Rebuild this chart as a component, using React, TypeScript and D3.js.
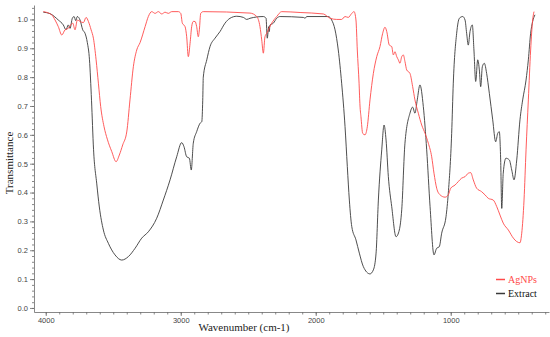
import { useEffect, useRef } from 'react';
import * as d3 from 'd3';

// FTIR spectra (wavenumber in cm-1, transmittance)
const extractWavenumber = [
    4018, 3968, 3907, 3870, 3850, 3833, 3820, 3803, 3790, 3778, 3766, 3746, 3726, 3709, 3692, 3676,
    3661, 3646, 3622, 3603, 3573, 3536, 3487, 3437, 3388, 3338, 3289, 3240, 3178, 3129, 3079, 3030,
    2993, 2976, 2956, 2936, 2922, 2907, 2882, 2857, 2844, 2837, 2833, 2807, 2783, 2746, 2709, 2672,
    2635, 2585, 2536, 2511, 2487, 2388, 2368, 2359, 2348, 2344, 2339, 2314, 2289, 2264, 2092, 2079,
    2067, 1907, 1882, 1857, 1833, 1808, 1783, 1766, 1751, 1733, 1702, 1677, 1647, 1598, 1573, 1553,
    1536, 1511, 1494, 1479, 1462, 1437, 1405, 1381, 1363, 1339, 1302, 1282, 1265, 1248, 1228, 1203,
    1178, 1153, 1124, 1104, 1085, 1067, 1035, 1018, 993, 981, 956, 936, 911, 894, 882, 870,
    857, 840, 828, 815, 800, 788, 778, 766, 751, 734, 714, 689, 667, 652, 640, 630,
    622, 611, 591, 566, 548, 531, 511, 487, 467, 442, 425, 408, 393, 376
];
const extractTransmittance = [
    1.025, 1.02, 0.998, 0.981, 0.964, 0.981, 0.969, 1.004, 1.01, 0.996, 1.01, 0.998, 0.964, 0.952, 0.92, 0.86,
    0.72, 0.55, 0.43, 0.35, 0.27, 0.224, 0.184, 0.166, 0.178, 0.207, 0.242, 0.264, 0.311, 0.374, 0.444, 0.524,
    0.573, 0.559, 0.524, 0.519, 0.478, 0.571, 0.611, 0.64, 0.646, 0.72, 0.8, 0.86, 0.906, 0.935, 0.958, 0.987,
    1.004, 1.011, 1.007, 1.0, 1.004, 1.01, 1.004, 0.935, 0.975, 0.958, 0.981, 0.987, 1.004, 1.01, 1.007, 1.004,
    1.01, 1.01, 0.998, 0.964, 0.894, 0.779, 0.629, 0.49, 0.374, 0.282, 0.236, 0.19, 0.143, 0.118, 0.132, 0.19,
    0.374, 0.548, 0.634, 0.582, 0.455, 0.351, 0.247, 0.27, 0.34, 0.571, 0.675, 0.696, 0.675, 0.721, 0.773, 0.698,
    0.548, 0.351, 0.184, 0.207, 0.212, 0.259, 0.316, 0.398, 0.605, 0.779, 0.952, 1.004, 1.01, 0.998, 0.952, 0.911,
    0.958, 0.981, 0.894, 0.785, 0.86, 0.825, 0.767, 0.836, 0.848, 0.813, 0.744, 0.652, 0.576, 0.605, 0.611, 0.513,
    0.345, 0.467, 0.519, 0.513, 0.478, 0.444, 0.513, 0.652, 0.721, 0.79, 0.86, 0.952, 0.993, 1.016
];

const agnpsWavenumber = [
    4018, 3956, 3931, 3907, 3881, 3857, 3833, 3815, 3800, 3783, 3766, 3746, 3721, 3701, 3684, 3664,
    3647, 3627, 3610, 3593, 3568, 3544, 3511, 3479, 3455, 3430, 3400, 3376, 3351, 3326, 3301, 3264,
    3240, 3215, 3190, 3166, 3141, 3116, 3092, 3067, 3018, 3000, 2988, 2968, 2956, 2944, 2931, 2919,
    2907, 2894, 2882, 2870, 2862, 2852, 2833, 2487, 2437, 2413, 2400, 2388, 2376, 2363, 2351, 2326,
    2289, 2252, 2116, 1944, 1894, 1845, 1808, 1783, 1759, 1733, 1716, 1702, 1692, 1679, 1672, 1665,
    1652, 1635, 1618, 1598, 1573, 1548, 1524, 1504, 1487, 1474, 1455, 1437, 1425, 1413, 1400, 1388,
    1376, 1363, 1351, 1339, 1326, 1302, 1282, 1265, 1240, 1215, 1190, 1166, 1141, 1124, 1104, 1079,
    1042, 1018, 1000, 968, 944, 919, 894, 870, 852, 833, 808, 771, 746, 722, 685, 659,
    635, 611, 573, 536, 511, 487, 474, 457, 442, 425, 408, 393, 383
];
const agnpsTransmittance = [
    1.027, 1.016, 0.998, 0.975, 0.946, 0.964, 0.969, 0.981, 0.987, 0.964, 0.998, 0.993, 0.989, 1.007, 0.993, 0.964,
    0.935, 0.86, 0.779, 0.698, 0.628, 0.585, 0.542, 0.507, 0.53, 0.565, 0.61, 0.721, 0.836, 0.894, 0.92, 0.975,
    1.01, 1.027, 1.021, 1.027, 1.019, 1.025, 1.021, 1.027, 1.027, 1.021, 0.987, 0.975, 0.94, 0.871, 0.917, 0.975,
    0.993, 0.993, 0.975, 0.94, 0.964, 1.021, 1.027, 1.022, 1.01, 0.975, 0.929, 0.883, 0.94, 0.952, 0.964, 0.987,
    1.01, 1.027, 1.024, 1.019, 1.004, 1.0, 1.0, 1.01, 1.007, 1.021, 1.027, 0.998, 0.894, 0.779, 0.7, 0.663,
    0.605, 0.6, 0.628, 0.721, 0.813, 0.871, 0.906, 0.952, 0.973, 0.958, 0.911, 0.906, 0.877, 0.888, 0.871, 0.86,
    0.848, 0.871, 0.877, 0.854, 0.825, 0.813, 0.767, 0.721, 0.675, 0.634, 0.605, 0.571, 0.524, 0.467, 0.415, 0.392,
    0.384, 0.392, 0.415, 0.426, 0.438, 0.45, 0.455, 0.467, 0.469, 0.444, 0.415, 0.403, 0.392, 0.38, 0.374, 0.351,
    0.322, 0.294, 0.27, 0.242, 0.23, 0.226, 0.259, 0.374, 0.548, 0.721, 0.894, 0.998, 1.027
];

const xMajorTicks = [4000, 3000, 2000, 1000];
const yMajorTicks = [0, 0.1, 0.2, 0.3, 0.4, 0.5, 0.6, 0.7, 0.8, 0.9, 1.0];

const seriesNames = ['AgNPs', 'Extract'];
const seriesColors = ['#ff4a4a', '#3a3a3a'];

export default function App() {
    const svgRef = useRef<SVGSVGElement>(null);

    useEffect(() => {
        if (!svgRef.current) return;
        const svg = d3.select(svgRef.current);
        svg.selectAll('*').remove();

        const width = 550;
        const height = 337;

        const x = d3.scaleLinear().domain([4087, 272]).range([34, 549]);
        const y = d3.scaleLinear().domain([-0.014, 1.05]).range([312, 5]);

        // minor ticks
        const xMinor = d3.range(3, 41).map(i => i * 100);
        const yMinor = d3.range(0, 53).map(i => i / 50);

        const axisColor = '#6a6a6a';
        const labelColor = '#444';

        const gxMinor = svg.append('g')
            .attr('transform', `translate(0,312)`)
            .call(d3.axisBottom(x).tickValues(xMinor).tickSize(2.5).tickSizeOuter(0).tickFormat(() => ''));
        gxMinor.select('.domain').remove();

        const gx = svg.append('g')
            .attr('transform', `translate(0,312)`)
            .call(d3.axisBottom(x).tickValues(xMajorTicks).tickSize(4).tickSizeOuter(0).tickPadding(1.5).tickFormat(d3.format('d')));

        const gyMinor = svg.append('g')
            .attr('transform', `translate(34,0)`)
            .call(d3.axisLeft(y).tickValues(yMinor).tickSize(2).tickSizeOuter(0).tickFormat(() => ''));
        gyMinor.select('.domain').remove();

        const gy = svg.append('g')
            .attr('transform', `translate(34,0)`)
            .call(d3.axisLeft(y).tickValues(yMajorTicks).tickSize(4).tickSizeOuter(0).tickPadding(2).tickFormat(d3.format('.1f')));

        [gx, gy, gxMinor, gyMinor].forEach(g => {
            g.selectAll('path, line').attr('stroke', axisColor).attr('stroke-width', 0.8);
            g.selectAll('text')
                .attr('fill', labelColor)
                .style('font-family', '"Liberation Sans", Arial, sans-serif')
                .style('font-size', '7.5px');
        });

        // spectra
        const line = d3.line<[number, number]>()
            .x(d => x(d[0]))
            .y(d => y(d[1]))
            .curve(d3.curveMonotoneX);

        const agnps = agnpsWavenumber.map((w, i) => [w, agnpsTransmittance[i]] as [number, number]);
        const extract = extractWavenumber.map((w, i) => [w, extractTransmittance[i]] as [number, number]);

        svg.append('path')
            .attr('d', line(extract) || '')
            .attr('fill', 'none')
            .attr('stroke', seriesColors[1])
            .attr('stroke-width', 0.9);

        svg.append('path')
            .attr('d', line(agnps) || '')
            .attr('fill', 'none')
            .attr('stroke', seriesColors[0])
            .attr('stroke-width', 0.9);

        // axis titles
        svg.append('text')
            .attr('x', 244)
            .attr('y', 331)
            .attr('text-anchor', 'middle')
            .style('font-family', '"Liberation Serif", "Times New Roman", serif')
            .style('font-size', '11px')
            .attr('fill', '#222')
            .text('Wavenumber (cm-1)');

        svg.append('text')
            .attr('transform', `translate(13,163) rotate(-90)`)
            .attr('text-anchor', 'middle')
            .style('font-family', '"Liberation Serif", "Times New Roman", serif')
            .style('font-size', '11px')
            .attr('fill', '#222')
            .text('Transmittance');

        // legend
        const legend = svg.append('g').attr('transform', 'translate(496,279.5)');
        seriesNames.forEach((name, i) => {
            const row = legend.append('g').attr('transform', `translate(0,${i * 14})`);
            row.append('line')
                .attr('x1', 0).attr('x2', 9)
                .attr('stroke', seriesColors[i])
                .attr('stroke-width', 1.5);
            row.append('text')
                .attr('x', 12)
                .attr('y', 3.8)
                .attr('fill', i === 0 ? '#ff4a4a' : '#111')
                .style('font-family', '"Liberation Serif", "Times New Roman", serif')
                .style('font-size', '10px')
                .text(name);
        });
    }, []);

    return (
        <svg
            ref={svgRef}
            width={550}
            height={337}
            style={{ position: 'absolute', left: 0, top: 0, background: '#fff' }}
        />
    );
}
